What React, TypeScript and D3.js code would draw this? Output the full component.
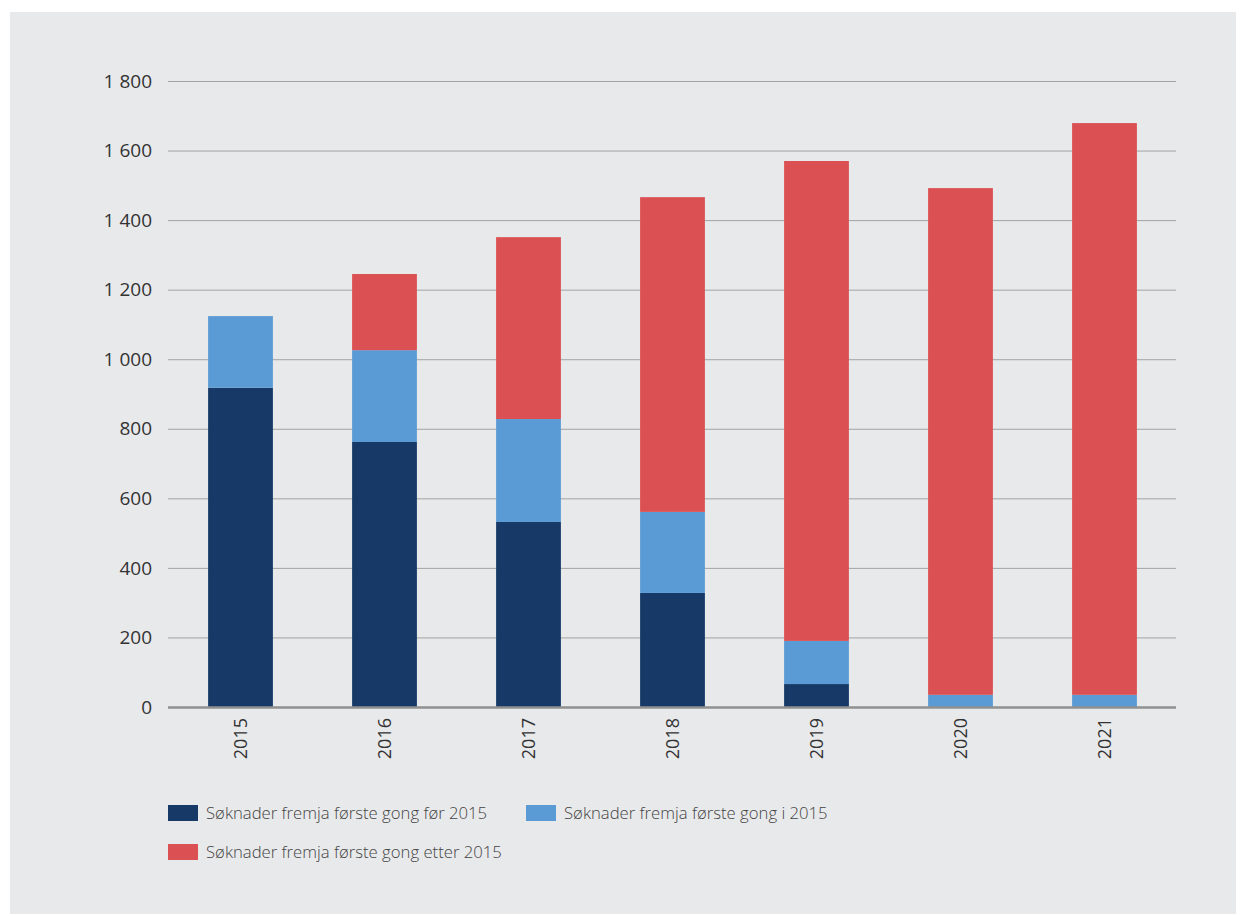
import React, { useEffect, useRef } from "react";
import * as d3 from "d3";

const years = ["2015", "2016", "2017", "2018", "2019", "2020", "2021"];
const before2015 = [918, 762, 532, 328, 66, 0, 0];
const in2015 = [206, 264, 296, 233, 124, 35, 35];
const after2015 = [0, 219, 523, 905, 1380, 1457, 1644];
const yTicks = [0, 200, 400, 600, 800, 1000, 1200, 1400, 1600, 1800];
const seriesNames = [
  "Søknader fremja første gong før 2015",
  "Søknader fremja første gong i 2015",
  "Søknader fremja første gong etter 2015",
];
const colors = ["#173968", "#5b9bd5", "#db5053"];

const W = 1246;
const H = 916;
const margin = { left: 168, right: 70, top: 81, bottom: 209 };

export default function App() {
  const ref = useRef<SVGSVGElement>(null);

  useEffect(() => {
    const svg = d3.select(ref.current);
    svg.selectAll("*").remove();
    const font = "'Open Sans', sans-serif";

    svg.append("rect").attr("x", 10).attr("y", 12).attr("width", 1226).attr("height", 902).attr("fill", "#e8e9eb");

    const x = d3.scaleBand().domain(years).range([margin.left, W - margin.right]).paddingInner(0.55).paddingOuter(0.275);
    const y = d3.scaleLinear().domain([0, 1800]).range([H - margin.bottom, margin.top]);

    const table = years.map((yr, i) => ({ year: yr, a: before2015[i], b: in2015[i], c: after2015[i] }));
    const stack = d3.stack<any>().keys(["a", "b", "c"])(table);

    const g = svg.append("g");
    g.selectAll("line.grid")
      .data(yTicks.filter((t) => t !== 0))
      .join("line")
      .attr("x1", margin.left)
      .attr("x2", W - margin.right)
      .attr("y1", (d) => y(d) + 0.5)
      .attr("y2", (d) => y(d) + 0.5)
      .attr("stroke", "#a3a3a3")
      .attr("stroke-width", 1);

    g.selectAll("text.ytick")
      .data(yTicks)
      .join("text")
      .attr("x", 152)
      .attr("y", (d) => y(d))
      .attr("dy", "0.35em")
      .attr("text-anchor", "end")
      .attr("font-family", font)
      .attr("font-size", 19)
      .attr("fill", "#333")
      .text((d) => d3.format(",")(d).replace(",", " "));

    stack.forEach((layer, li) => {
      g.append("g")
        .selectAll("rect")
        .data(layer)
        .join("rect")
        .attr("x", (d: any) => x(d.data.year)! + 0.5)
        .attr("width", x.bandwidth())
        .attr("y", (d: any) => y(d[1]))
        .attr("height", (d: any) => Math.max(0, y(d[0]) - y(d[1])))
        .attr("fill", colors[li]);
    });

    g.append("line")
      .attr("x1", margin.left)
      .attr("x2", W - margin.right)
      .attr("y1", y(0) + 0.5)
      .attr("y2", y(0) + 0.5)
      .attr("stroke", "#909090")
      .attr("stroke-width", 2.5);

    g.selectAll("text.xtick")
      .data(years)
      .join("text")
      .attr("transform", (d) => `translate(${x(d)! + x.bandwidth() / 2 + 6.5},${y(0) + 11}) rotate(-90)`)
      .attr("text-anchor", "end")
      .attr("font-family", font)
      .attr("font-size", 18)
      .attr("fill", "#333")
      .text((d) => d);

    const legendPos = [
      { x: 168, y: 805 },
      { x: 526, y: 805 },
      { x: 168, y: 844 },
    ];
    seriesNames.forEach((name, i) => {
      const p = legendPos[i];
      g.append("rect").attr("x", p.x).attr("y", p.y).attr("width", 30).attr("height", 16).attr("fill", colors[i]);
      g.append("text")
        .attr("x", p.x + 38)
        .attr("y", p.y + 8)
        .attr("dy", "0.35em")
        .attr("font-family", font)
        .attr("font-size", 16.7)
        .attr("font-weight", 300)
        .attr("fill", "#444")
        .text(name);
    });
  }, []);

  return <svg ref={ref} width={W} height={H} style={{ position: "absolute", left: 0, top: 0, background: "#fff" }} />;
}
